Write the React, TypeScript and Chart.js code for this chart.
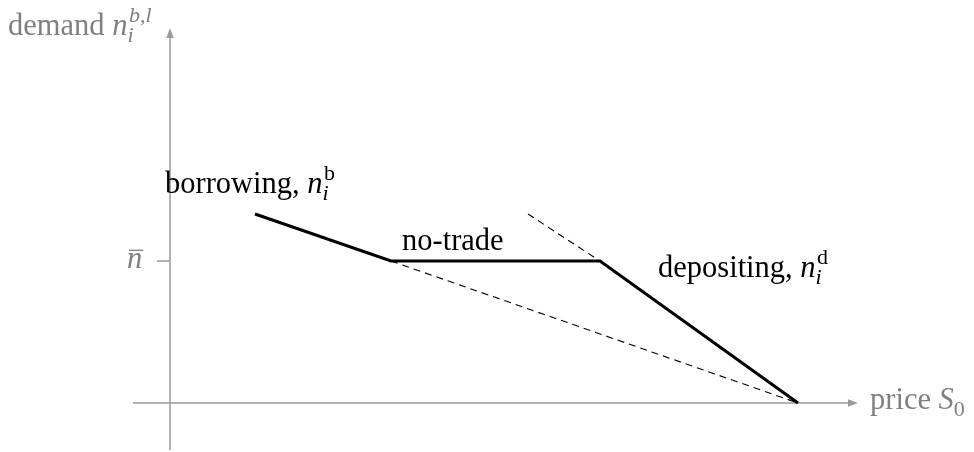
import React, { useEffect, useRef } from 'react';
import { Chart, registerables } from 'chart.js';

Chart.register(...registerables);

// ---- data (abstract units) ----
const demandX = [0.85, 2.21, 4.3, 6.28];
const demandY = [1.89, 1.42, 1.42, 0];
const borrowExtX = [2.21, 6.28];
const borrowExtY = [1.42, 0];
const depositExtX = [3.58, 4.3];
const depositExtY = [1.89, 1.42];
const nBarValue = 1.42;
const xAxisExtent = [-0.37, 6.88];
const yAxisExtent = [-0.47, 3.75];

type Part = { t: string; it?: boolean; sub?: string; sup?: string; subIt?: boolean; supIt?: boolean; bar?: boolean };
type Label = { x: number; y: number; color: string; parts: Part[] };

const FONT = '"Liberation Serif", "Times New Roman", serif';
const SIZE = 30.5;
const GRAY_TEXT = '#808080';
const GRAY_LINE = '#9a9a9a';

const labels: Label[] = [
  { x: -1.62, y: 3.68, color: GRAY_TEXT, parts: [{ t: 'demand ' }, { t: 'n', it: true, sub: 'i', subIt: true, sup: 'b,l', supIt: true }] },
  { x: -0.05, y: 2.1, color: '#000', parts: [{ t: 'borrowing, ' }, { t: 'n', it: true, sub: 'i', subIt: true, sup: 'b' }] },
  { x: 2.32, y: 1.53, color: '#000', parts: [{ t: 'no-trade' }] },
  { x: 4.88, y: 1.26, color: '#000', parts: [{ t: 'depositing, ' }, { t: 'n', it: true, sub: 'i', subIt: true, sup: 'd' }] },
  { x: 7.0, y: -0.06, color: GRAY_TEXT, parts: [{ t: 'price ' }, { t: 'S', it: true, sub: '0' }] },
  { x: -0.43, y: 1.35, color: GRAY_TEXT, parts: [{ t: 'n', it: true, bar: true }] },
];

const font = (it: boolean | undefined, size: number) => `${it ? 'italic ' : ''}${size}px ${FONT}`;

const axesPlugin = {
  id: 'axesPlugin',
  beforeDatasetsDraw(chart: any) {
    const { ctx, scales } = chart;
    const xs = scales.x;
    const ys = scales.y;
    const x0 = xs.getPixelForValue(0);
    const y0 = ys.getPixelForValue(0);
    ctx.save();
    ctx.strokeStyle = GRAY_LINE;
    ctx.fillStyle = GRAY_LINE;
    ctx.lineWidth = 1.5;
    // x axis
    const xa = xs.getPixelForValue(xAxisExtent[0]);
    const xb = xs.getPixelForValue(xAxisExtent[1]);
    ctx.beginPath();
    ctx.moveTo(xa, y0);
    ctx.lineTo(xb - 8, y0);
    ctx.stroke();
    ctx.beginPath();
    ctx.moveTo(xb, y0);
    ctx.lineTo(xb - 10, y0 - 3.8);
    ctx.lineTo(xb - 10, y0 + 3.8);
    ctx.closePath();
    ctx.fill();
    // y axis
    const ya = ys.getPixelForValue(yAxisExtent[0]);
    const yb = ys.getPixelForValue(yAxisExtent[1]);
    ctx.beginPath();
    ctx.moveTo(x0, ya);
    ctx.lineTo(x0, yb + 8);
    ctx.stroke();
    ctx.beginPath();
    ctx.moveTo(x0, yb);
    ctx.lineTo(x0 - 3.8, yb + 10);
    ctx.lineTo(x0 + 3.8, yb + 10);
    ctx.closePath();
    ctx.fill();
    // tick at n-bar
    const yt = ys.getPixelForValue(nBarValue);
    ctx.beginPath();
    ctx.moveTo(xs.getPixelForValue(-0.13), yt);
    ctx.lineTo(x0, yt);
    ctx.stroke();
    ctx.restore();
  },
};

const labelsPlugin = {
  id: 'labelsPlugin',
  afterDraw(chart: any) {
    const { ctx, scales } = chart;
    ctx.save();
    ctx.textBaseline = 'alphabetic';
    ctx.textAlign = 'left';
    for (const lab of labels) {
      let cx = scales.x.getPixelForValue(lab.x);
      const by = scales.y.getPixelForValue(lab.y);
      ctx.fillStyle = lab.color;
      ctx.strokeStyle = lab.color;
      for (const p of lab.parts) {
        ctx.font = font(p.it, SIZE);
        ctx.fillText(p.t, cx, by);
        const w = ctx.measureText(p.t).width;
        if (p.bar) {
          ctx.lineWidth = 1.3;
          ctx.beginPath();
          ctx.moveTo(cx + 2, by - SIZE * 0.58);
          ctx.lineTo(cx + w + 1, by - SIZE * 0.58);
          ctx.stroke();
        }
        cx += w;
        const small = Math.round(SIZE * 0.72);
        let adv = 0;
        if (p.sup) {
          ctx.font = font(p.supIt, small);
          ctx.fillText(p.sup, cx + 1.5, by - SIZE * 0.42);
          adv = Math.max(adv, ctx.measureText(p.sup).width + 1.5);
        }
        if (p.sub) {
          ctx.font = font(p.subIt, small);
          ctx.fillText(p.sub, cx, by + SIZE * 0.22);
          adv = Math.max(adv, ctx.measureText(p.sub).width);
        }
        cx += adv;
      }
    }
    ctx.restore();
  },
};

const pts = (xs: number[], ys: number[]) => xs.map((x, i) => ({ x, y: ys[i] }));

export default function App() {
  const ref = useRef<HTMLCanvasElement>(null);
  useEffect(() => {
    document.body.style.margin = '0';
    const chart = new Chart(ref.current!, {
      type: 'scatter',
      data: {
        datasets: [
          {
            label: 'borrowing extension',
            data: pts(borrowExtX, borrowExtY),
            showLine: true,
            borderColor: '#000',
            borderWidth: 1.1,
            borderDash: [7, 5],
            pointRadius: 0,
            tension: 0,
          },
          {
            label: 'depositing extension',
            data: pts(depositExtX, depositExtY),
            showLine: true,
            borderColor: '#000',
            borderWidth: 1.1,
            borderDash: [7, 5],
            pointRadius: 0,
            tension: 0,
          },
          {
            label: 'demand',
            data: pts(demandX, demandY),
            showLine: true,
            borderColor: '#000',
            borderWidth: 3,
            pointRadius: 0,
            tension: 0,
            borderJoinStyle: 'miter',
          },
        ],
      },
      options: {
        animation: false,
        responsive: false,
        maintainAspectRatio: false,
        events: [],
        layout: { padding: 0 },
        plugins: { legend: { display: false }, tooltip: { enabled: false } },
        scales: {
          x: { type: 'linear', min: -1.7, max: 8.04, display: false },
          y: { type: 'linear', min: -0.49, max: 4.03, display: false },
        },
      } as any,
      plugins: [axesPlugin, labelsPlugin],
    });
    return () => chart.destroy();
  }, []);
  return (
    <div style={{ position: 'fixed', left: 0, top: 0, width: 974, height: 452, background: '#fff' }}>
      <canvas ref={ref} width={974} height={452} style={{ display: 'block' }} />
    </div>
  );
}
